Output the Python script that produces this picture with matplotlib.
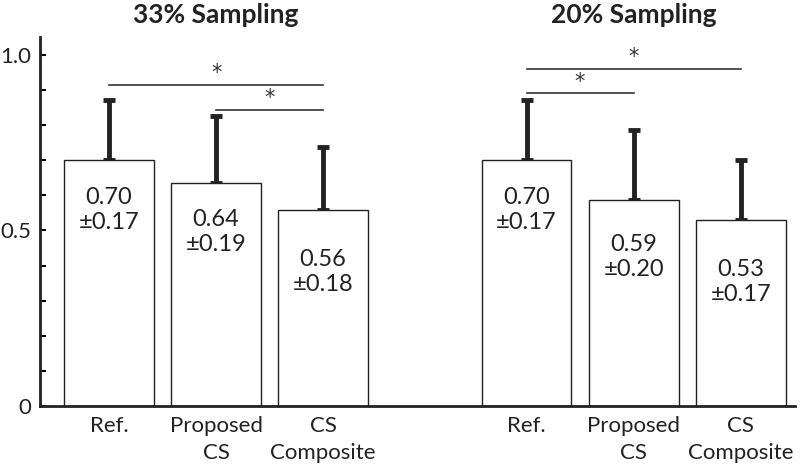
import matplotlib
matplotlib.use('Agg')
import matplotlib.pyplot as plt
import numpy as np

plt.rcParams['font.family'] = ['Lato', 'DejaVu Sans']

# data
groups = ['33% Sampling', '20% Sampling']
labels = ['Ref.', 'Proposed\nCS', 'CS\nComposite']
means = [0.70, 0.635, 0.558, 0.70, 0.587, 0.53]
stds = [0.17, 0.19, 0.18, 0.17, 0.20, 0.17]
mean_txt = ['0.70', '0.64', '0.56', '0.70', '0.59', '0.53']
std_txt = ['0.17', '0.19', '0.18', '0.17', '0.20', '0.17']
# significance pairs (bar index a, bar index b, height)
sig = [(0, 2, 0.915), (1, 2, 0.843), (3, 5, 0.96), (3, 4, 0.89)]

x = np.array([0, 1, 2, 3.9, 4.9, 5.9])
txt_drop = [0.142, 0.139, 0.176, 0.142, 0.163, 0.177]

fig = plt.figure(figsize=(8, 4.69), dpi=100)
ax = fig.add_axes([0.05, 0.134, 0.944, 0.787])

ax.bar(x, means, width=0.84, color='white', edgecolor='#222222', linewidth=1.0, zorder=2)
ax.errorbar(x, means, yerr=[np.zeros(6), stds], fmt='none', ecolor='#222222',
            elinewidth=3.5, capsize=4.5, capthick=3.5, zorder=1)

for i in range(6):
    ax.text(x[i], means[i] - txt_drop[i], mean_txt[i] + '\n\u00b1' + std_txt[i],
            ha='center', va='center', fontsize=17, color='#222222', linespacing=1.25, zorder=3)

for a, b, h in sig:
    ax.plot([x[a], x[b]], [h, h], color='#333333', linewidth=1.2)
    ax.text((x[a] + x[b]) / 2, h + 0.033, '*', ha='center', va='center', fontsize=15,
            family='DejaVu Sans', color='#333333')

for g, name in enumerate(groups):
    ax.text(x[3 * g + 1], 1.113, name, ha='center', va='center', fontsize=19,
            fontweight='bold', color='#222222')

ax.set_xlim(-0.645, 6.41)
ax.set_ylim(0, 1.05)
ax.set_xticks(x)
ax.set_xticklabels(labels * 2, fontsize=16, color='#222222', va='top', linespacing=1.45)
ax.tick_params(axis='x', length=0, pad=7)
ax.set_yticks([0, 0.5, 1.0])
ax.set_yticklabels(['0', '0.5', '1.0'], fontsize=16, color='#222222')
ax.set_yticks(np.arange(0.1, 1.0, 0.1), minor=True)
ax.tick_params(axis='y', which='both', length=4, width=1.5, direction='in', pad=6)

for s in ['top', 'right']:
    ax.spines[s].set_visible(False)
for s in ['left', 'bottom']:
    ax.spines[s].set_linewidth(2)
    ax.spines[s].set_color('#222222')

fig.savefig('out.png', dpi=100)
